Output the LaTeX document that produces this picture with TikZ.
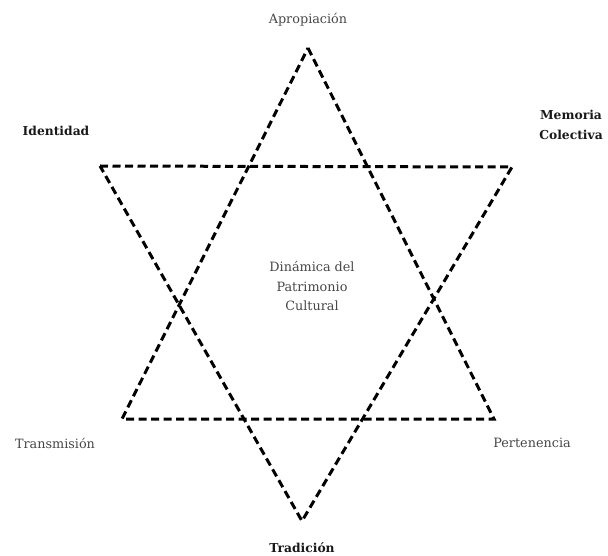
\documentclass[tikz,border=0pt]{standalone}
\usepackage{fontspec}
\setmainfont{DejaVu Serif}
\begin{document}
\begin{tikzpicture}[x=1pt,y=-1pt,
  edge/.style={line width=3pt,dash pattern=on 8pt off 4.5pt,line join=miter},
  lbl/.style={font=\fontsize{12.8}{19.5}\selectfont,text=black!72,align=center,inner sep=0pt},
  blbl/.style={font=\fontsize{12.3}{20}\selectfont\bfseries,text=black!90,align=center,inner sep=0pt}]
\useasboundingbox (0,0) rectangle (608,556);
% upward triangle
\coordinate (ua) at (308,48);
\coordinate (ul) at (122,419);
\coordinate (ur) at (494,419);
% downward triangle
\coordinate (dl) at (100,166);
\coordinate (dr) at (512,167);
\coordinate (db) at (302,521);
\draw[edge] (ua) -- (ur) -- (ul) -- cycle;
\draw[edge] (dl) -- (dr) -- (db) -- cycle;
% labels
\node[lbl] (apro) at (308,20) {Apropiación};
\node[blbl] (iden) at (56,131) {Identidad};
\node[blbl] (memo) at (571,125) {Memoria\\Colectiva};
\node[lbl] (center) at (312,286) {Dinámica del\\Patrimonio\\Cultural};
\node[lbl] (trans) at (55,443) {Transmisión};
\node[lbl] (pert) at (532,443) {Pertenencia};
\node[blbl] (trad) at (302,548) {Tradición};
\end{tikzpicture}
\end{document}
